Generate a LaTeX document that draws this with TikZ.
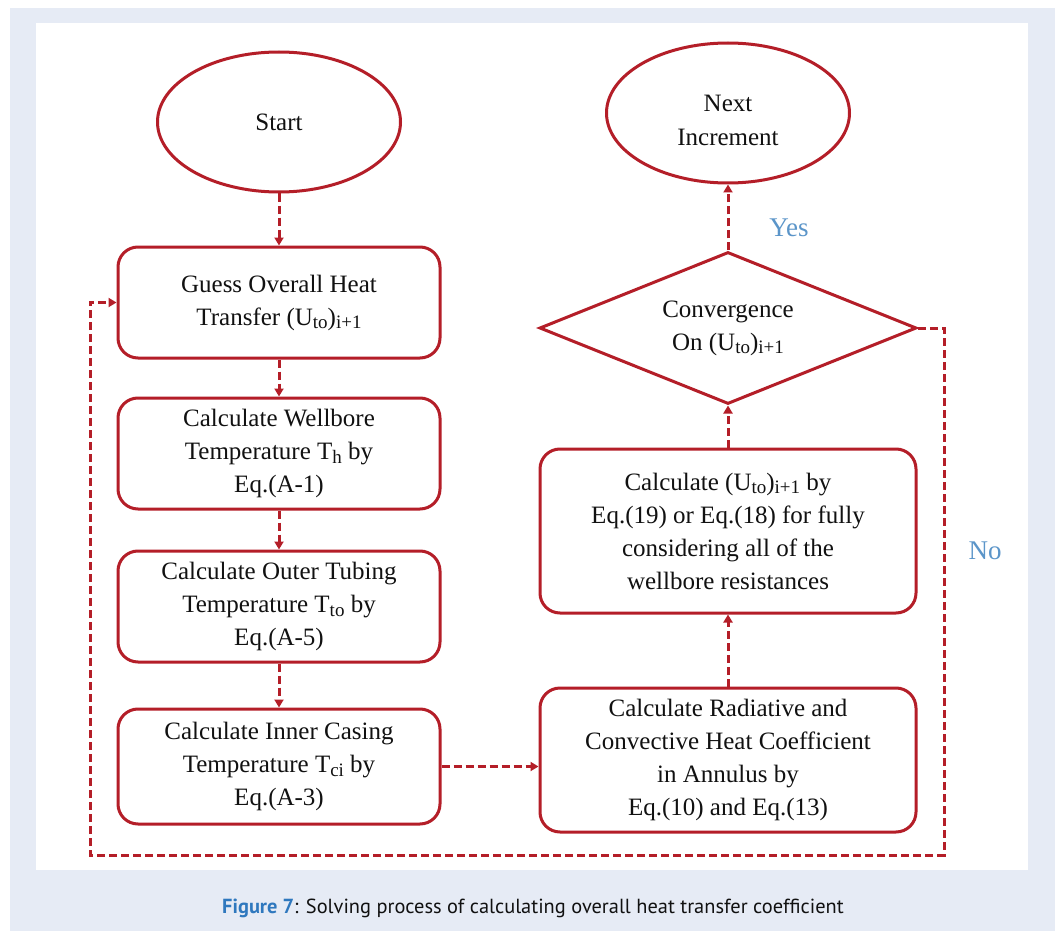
\documentclass[tikz,border=0pt]{standalone}
\usepackage{fontspec}
\setmainfont{Liberation Serif}
\newfontfamily\capfont{PT Sans}
\usetikzlibrary{arrows.meta, positioning, shapes.geometric}
\definecolor{flowRed}{HTML}{B41E28}
\definecolor{panelBlue}{HTML}{E6EBF5}
\definecolor{noteBlue}{HTML}{5B95C9}
\definecolor{capBlue}{HTML}{2F78BE}
\definecolor{inkGray}{HTML}{111111}
\newcommand{\boxfont}{\fontsize{25}{33}\selectfont}
\newcommand{\low}[1]{\raisebox{-0.32ex}{\fontsize{19}{19}\selectfont #1}}

\begin{document}
\begin{tikzpicture}[x=1pt, y=-1pt,
    box/.style={draw=flowRed, line width=3pt, rounded corners=20pt, fill=white,
                minimum width=322pt, minimum height=111pt, align=center,
                text=inkGray, font=\boxfont, inner sep=2pt},
    wide/.style={box, minimum width=376pt},
    oval/.style={ellipse, draw=flowRed, line width=3pt, fill=white, minimum width=243pt,
                 minimum height=140pt, inner sep=0pt, align=center, text=inkGray, font=\boxfont},
    decide/.style={diamond, aspect=2.48, draw=flowRed, line width=3pt, fill=white,
                   minimum width=377pt, minimum height=152pt, inner sep=0pt, align=center,
                   text=inkGray, font=\boxfont},
    arr/.style={-{Triangle[length=8pt, width=9pt]}, flowRed, line width=3pt,
                dash pattern=on 8pt off 4pt},
    note/.style={text=noteBlue, font=\fontsize{27}{32}\selectfont}
]
  % page and panel
  \useasboundingbox (0,0) rectangle (1058,931);
  \fill[panelBlue] (10,8) rectangle (1055,931);
  \fill[white] (36,23) rectangle (1028,870);

  % left column
  \node[oval] (start) at (279,122) {Start};
  \node[box] (guess) at (279,302.5) {Guess Overall Heat\\Transfer (U\low{to})\low{i+1}};
  \node[box, below=37pt of guess] (wellbore) {Calculate Wellbore\\Temperature T\low{h} by\\Eq.(A-1)};
  \node[box, below=39pt of wellbore] (tubing) {Calculate Outer Tubing\\Temperature T\low{to} by\\Eq.(A-5)};
  \node[box, below=44pt of tubing, minimum height=115pt] (casing) {Calculate Inner Casing\\Temperature T\low{ci} by\\Eq.(A-3)};

  % right column
  \node[wide, minimum height=144pt] (radiative) at (728,760) {Calculate Radiative and\\Convective Heat Coefficient\\in Annulus by\\Eq.(10) and Eq.(13)};
  \node[wide, minimum height=164pt, above=72pt of radiative] (update) {Calculate (U\low{to})\low{i+1} by\\Eq.(19) or Eq.(18) for fully\\considering all of the\\wellbore resistances};
  \node[decide, above=42pt of update] (conv) {Convergence\\On (U\low{to})\low{i+1}};
  \node[oval, above=66pt of conv, font=\fontsize{25}{34}\selectfont] (next) {\rule{0pt}{31pt}Next\\Increment};

  \node[note] (yes) at (789,228) {Yes};
  \node[note] (no) at (985,551) {No};

  \coordinate (loopBR) at (944,855);
  \coordinate (loopBL) at (90,855);

  \draw[arr] (start) -- (guess);
  \draw[arr] (guess) -- (wellbore);
  \draw[arr] (wellbore) -- (tubing);
  \draw[arr] (tubing) -- (casing);
  \draw[arr] (casing.east) -- (casing.east -| radiative.west);
  \draw[arr] (radiative) -- (update);
  \draw[arr] (update) -- (conv);
  \draw[arr] (conv) -- (next);
  \draw[arr] (conv.east) -| (loopBR) -| (loopBL) |- (guess.west);

  % caption
  \node[font=\capfont\fontsize{20.4}{24}\selectfont, text=inkGray] (caption) at (533,908)
    {\textcolor{capBlue}{\bfseries Figure 7}: Solving process of calculating overall heat transfer coefficient};
\end{tikzpicture}
\end{document}
